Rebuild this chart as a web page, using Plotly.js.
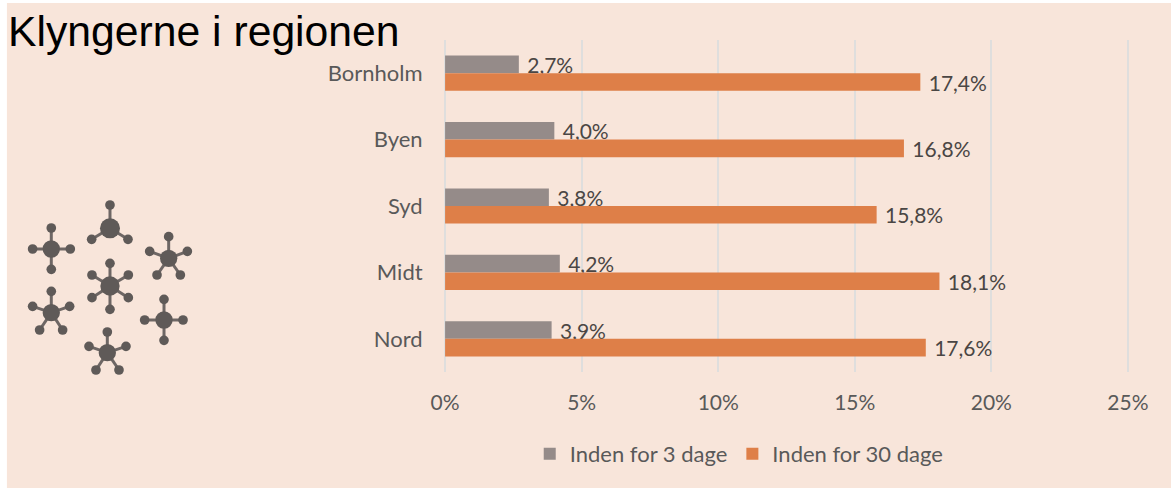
<!DOCTYPE html>
<html>
<head>
<meta charset="utf-8">
<script src="https://cdn.plot.ly/plotly-3.0.1.min.js"></script>
<style>html,body{margin:0;padding:0;background:#fff}#c{width:1171px;height:488px}</style>
</head>
<body>
<div id="c"></div>
<script>
const categories = ["Bornholm", "Byen", "Syd", "Midt", "Nord"];
const within3 = [2.7, 4.0, 3.8, 4.2, 3.9];
const within30 = [17.4, 16.8, 15.8, 18.1, 17.6];
const seriesNames = ["Inden for 3 dage", "Inden for 30 dage"];
const tickValues = [0, 5, 10, 15, 20, 25];
const tickLabels = ["0%", "5%", "10%", "15%", "20%", "25%"];

const W = 1171, H = 488;
const M = {l: 443.9, r: W - 1128.6, t: 40, b: H - 372};
const pw = W - M.l - M.r, ph = H - M.t - M.b;
const px = x => (x - M.l) / pw;
const py = y => 1 - (y - M.t) / ph;
const font = "Lato, 'Open Sans', sans-serif";
const ink = "#5f5a58";

const shapes = [{
  type: "rect", xref: "paper", yref: "paper", layer: "below",
  x0: px(7), x1: px(1171), y0: py(3), y1: py(488),
  fillcolor: "#F8E5DA", line: {width: 0}
}];

// decorative cluster icon, positions in zoomed-crop pixels
const clusters = [
  {c: [152, 207, 26], s: [[152,144],[96,207],[209,207],[152,268]]},
  {c: [328, 145, 30], s: [[328,75],[273,178],[382,178]]},
  {c: [504, 235, 26], s: [[504,170],[447,214],[560,214],[469,285],[539,285]]},
  {c: [328, 318, 29], s: [[328,250],[274,285],[383,285],[274,353],[383,353],[328,388]]},
  {c: [152, 398, 26], s: [[152,334],[96,379],[207,379],[117,450],[186,450]]},
  {c: [490, 420, 26], s: [[490,358],[432,420],[547,420],[490,481]]},
  {c: [320, 518, 26], s: [[320,456],[265,499],[376,499],[286,570],[355,570]]}
];
const zx = v => px(v / 3 + 0.7), zy = v => py(180 + v / 3);
const dot = (x, y, r) => ({
  type: "circle", xref: "paper", yref: "paper", layer: "above",
  x0: zx(x - r), x1: zx(x + r), y0: zy(y + r), y1: zy(y - r),
  fillcolor: ink, line: {width: 0}
});
clusters.forEach(k => {
  k.s.forEach(p => shapes.push({
    type: "line", xref: "paper", yref: "paper", layer: "above",
    x0: zx(k.c[0]), y0: zy(k.c[1]), x1: zx(p[0]), y1: zy(p[1]),
    line: {color: "#6e6765", width: 3}
  }));
  k.s.forEach(p => shapes.push(dot(p[0], p[1], 14.5)));
  shapes.push(dot(k.c[0], k.c[1], k.c[2]));
});

const bar = (name, vals, color) => ({
  type: "bar", orientation: "h", name: name, x: vals, y: categories,
  marker: {color: color, line: {width: 0}},
  texttemplate: "\u00A0%{x:.1f}%", textposition: "outside", cliponaxis: false,
  constraintext: "none",
  textfont: {family: font, size: 21, color: "#4a4644"},
  outsidetextfont: {family: font, size: 21, color: "#4a4644"},
  hoverinfo: "x+y"
});

Plotly.newPlot("c", [
  bar(seriesNames[0], within3, "#958B89"),
  bar(seriesNames[1], within30, "#DE7F48")
], {
  width: W, height: H, margin: M,
  paper_bgcolor: "#ffffff", plot_bgcolor: "rgba(0,0,0,0)",
  separators: ",.",
  barmode: "group", bargap: 0.47, bargroupgap: 0,
  title: {
    text: "Klyngerne i regionen",
    font: {family: "'Liberation Sans', Arial, sans-serif", size: 42.7, color: "#000"},
    x: 8 / W, xanchor: "left", xref: "container",
    y: 1 - 31 / H, yanchor: "middle", yref: "container", pad: {l: 0, t: 0, b: 0, r: 0}
  },
  xaxis: {
    range: [-0.04, 25.04], tickvals: tickValues, ticktext: tickLabels,
    showgrid: true, gridcolor: "#DFDEDD", gridwidth: 2,
    zeroline: true, zerolinecolor: "#DFDEDD", zerolinewidth: 2, showline: false,
    ticks: "outside", ticklen: 12, tickcolor: "rgba(0,0,0,0)",
    tickfont: {family: font, size: 21, color: "#595959"}, automargin: false
  },
  yaxis: {
    autorange: "reversed", showgrid: false, zeroline: false, showline: false,
    ticks: "outside", ticklen: 16, tickcolor: "rgba(0,0,0,0)",
    tickfont: {family: font, size: 22, color: "#595959"}, automargin: false
  },
  legend: {
    orientation: "h", x: px(739), xanchor: "center", y: py(454), yanchor: "middle",
    bgcolor: "rgba(0,0,0,0)", font: {family: font, size: 22, color: "#595959"},
    traceorder: "normal", itemclick: false, itemdoubleclick: false
  },
  shapes: shapes,
  showlegend: true
}, {displayModeBar: false, staticPlot: true});
</script>
</body>
</html>
